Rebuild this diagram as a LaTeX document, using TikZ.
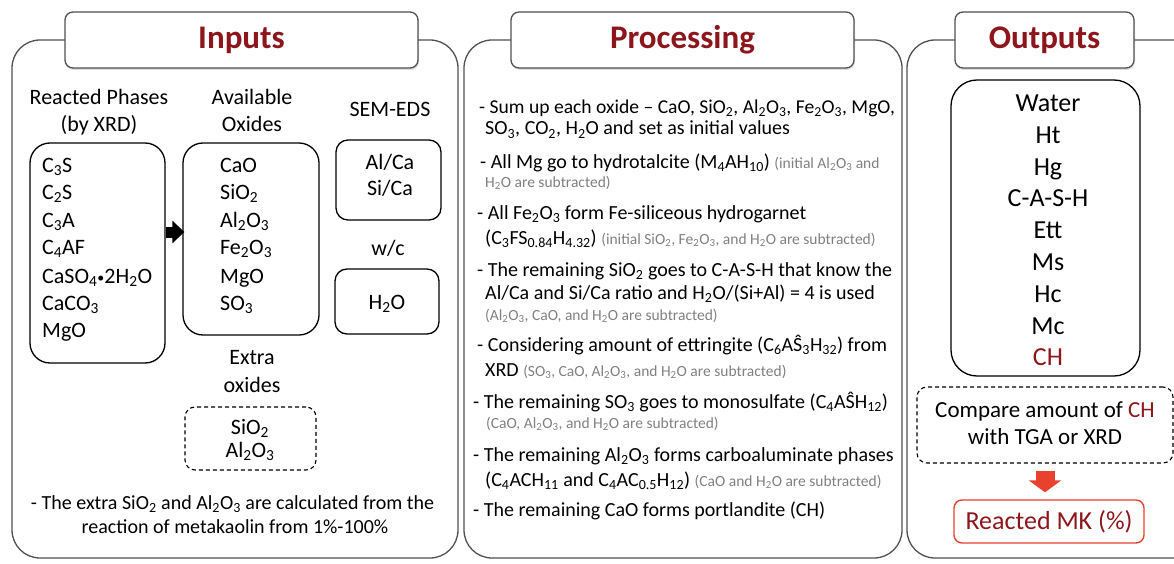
\documentclass[tikz,border=0pt]{standalone}
\usepackage{fontspec}
\setmainfont{Carlito}
\usetikzlibrary{arrows.meta,shadows}
\definecolor{titlered}{RGB}{140,22,28}
\definecolor{panelgray}{RGB}{80,80,85}
\definecolor{notegray}{RGB}{128,128,128}
\definecolor{arrowred}{RGB}{232,65,45}
\newcommand{\sbs}[1]{\textsubscript{#1}}
\newcommand{\fs}[1]{\fontsize{#1}{#1}\selectfont}
\newcommand{\gr}[1]{{\color{notegray}\fs{15.5}#1}}
\newcommand{\smdot}{\raisebox{1pt}{\fs{14}\textbullet}}
\tikzset{
  panel/.style={draw=panelgray, line width=1.3, rounded corners=28},
  titlebox/.style={draw=panelgray, fill=white, line width=1.3, rounded corners=8,
    minimum height=56, inner sep=0, font=\fs{33}\bfseries, text=titlered,
    drop shadow={shadow xshift=1pt, shadow yshift=-2pt, opacity=0.25}},
  ibox/.style={draw=black, line width=1.3, rounded corners=20, inner sep=0},
  sbox/.style={draw=black, line width=1.3, rounded corners=12, inner sep=0},
  dbox/.style={draw=black, line width=1.1, dash pattern=on 4pt off 3pt, rounded corners=10, inner sep=0},
  head/.style={anchor=base, inner sep=0, font=\fs{22}},
  ltxt/.style={anchor=base west, inner sep=0, font=\fs{22}},
  ctxt/.style={anchor=base, inner sep=0, font=\fs{22}},
  ptxt/.style={anchor=base west, inner sep=0, font=\fs{20}},
  gtxt/.style={text=notegray, font=\fs{15.5}},
  otxt/.style={anchor=base, inner sep=0, font=\fs{26}},
}
\begin{document}
\begin{tikzpicture}[x=1pt,y=-1pt]
\useasboundingbox (0,0) rectangle (1174,564);
\clip (0,0) rectangle (1174,564);
% panels
\draw[panel] (12,40) rectangle (458,558);
\draw[panel] (464,40) rectangle (902,558);
\draw[panel] (907,40) rectangle (1210,558);
% titles
\node[titlebox, minimum width=353] (tin) at (241.5,40) {Inputs};
\node[titlebox, minimum width=343] (tpr) at (682.5,40) {Processing};
\node[titlebox, minimum width=179] (tout) at (1044.5,40) {Outputs};

% ---------- Inputs ----------
\node[head] (h1a) at (99,105) {Reacted Phases};
\node[head] (h1b) at (99,132) {(by XRD)};
\node[head] (h2a) at (252,105) {Available};
\node[head] (h2b) at (252,132) {Oxides};
\node[head] (h3) at (390,117) {SEM-EDS};

\node[ibox, minimum width=135, minimum height=220] (phases) at (97.5,253) {};
\node[ibox, minimum width=136, minimum height=192] (oxides) at (251,239) {};
\node[sbox, minimum width=105, minimum height=80] (sem) at (388.5,180) {};
\node[sbox, minimum width=104, minimum height=65] (water) at (387,301.5) {};
\node[dbox, minimum width=131, minimum height=63] (extra) at (250.5,438.5) {};

\node[ltxt] (ph1) at (42,172) {C\sbs{3}S};
\node[ltxt] (ph2) at (42,199) {C\sbs{2}S};
\node[ltxt] (ph3) at (42,227) {C\sbs{3}A};
\node[ltxt] (ph4) at (42,254.5) {C\sbs{4}AF};
\node[ltxt] (ph5) at (42,283) {CaSO\sbs{4}\smdot 2H\sbs{2}O};
\node[ltxt] (ph6) at (42,310) {CaCO\sbs{3}};
\node[ltxt] (ph7) at (42,337.5) {MgO};

\node[ltxt] (ox1) at (220,172) {CaO};
\node[ltxt] (ox2) at (220,199) {SiO\sbs{2}};
\node[ltxt] (ox3) at (220,227) {Al\sbs{2}O\sbs{3}};
\node[ltxt] (ox4) at (220,254.5) {Fe\sbs{2}O\sbs{3}};
\node[ltxt] (ox5) at (220,283) {MgO};
\node[ltxt] (ox6) at (220,310) {SO\sbs{3}};

\node[ctxt] (s1) at (390,169.5) {Al/Ca};
\node[ctxt] (s2) at (390,196) {Si/Ca};
\node[ctxt] (wc) at (388,255) {w/c};
\node[ctxt] (h2o) at (387,309) {H\sbs{2}O};

\node[ctxt] (ex1) at (252,364) {Extra};
\node[ctxt] (ex2) at (252,392) {oxides};
\node[ctxt] (ex3) at (250,434) {SiO\sbs{2}};
\node[ctxt] (ex4) at (250,457) {Al\sbs{2}O\sbs{3}};

\node[anchor=base, inner sep=0, font=\fs{20}] (n1) at (232.5,509.5) {- The extra SiO\sbs{2} and Al\sbs{2}O\sbs{3} are calculated from the};
\node[anchor=base, inner sep=0, font=\fs{20}] (n2) at (235,533.5) {reaction of metakaolin from 1\%-100\%};

\coordinate (ay) at (0,232);
\draw[line width=11, -{Triangle[width=22,length=12]}] (phases.east |- ay) -- ([xshift=2]oxides.west |- ay);

% ---------- Processing ----------
\node[ptxt, font=\fs{19.6}] (p1a) at (479,113.5) {- Sum up each oxide – CaO, SiO\sbs{2}, Al\sbs{2}O\sbs{3}, Fe\sbs{2}O\sbs{3}, MgO,};
\node[ptxt] (p1b) at (485,135) {SO\sbs{3}, CO\sbs{2}, H\sbs{2}O and set as initial values};
\node[ptxt] (p2a) at (480,168.5) {- All Mg go to hydrotalcite (M\sbs{4}AH\sbs{10}) \gr{(initial Al\sbs{2}O\sbs{3} and}};
\node[ptxt,gtxt] (p2b) at (485,187) {H\sbs{2}O are subtracted)};
\node[ptxt] (p3a) at (477,219.5) {- All Fe\sbs{2}O\sbs{3} form Fe-siliceous hydrogarnet};
\node[ptxt] (p3b) at (485,244.5) {(C\sbs{3}FS\sbs{0.84}H\sbs{4.32}) \gr{(initial SiO\sbs{2}, Fe\sbs{2}O\sbs{3}, and H\sbs{2}O are subtracted)}};
\node[ptxt] (p4a) at (477,276.5) {- The remaining SiO\sbs{2} goes to C-A-S-H that know the};
\node[ptxt] (p4b) at (485,299.5) {Al/Ca and Si/Ca ratio and H\sbs{2}O/(Si+Al) = 4 is used};
\node[ptxt,gtxt] (p4c) at (485,320) {(Al\sbs{2}O\sbs{3}, CaO, and H\sbs{2}O are subtracted)};
\node[ptxt] (p5a) at (477,351.5) {- Considering amount of ettringite (C\sbs{6}AŜ\sbs{3}H\sbs{32}) from};
\node[ptxt] (p5b) at (485,376.5) {XRD \gr{(SO\sbs{3}, CaO, Al\sbs{2}O\sbs{3}, and H\sbs{2}O are subtracted)}};
\node[ptxt] (p6a) at (473,408.5) {- The remaining SO\sbs{3} goes to monosulfate (C\sbs{4}AŜH\sbs{12})};
\node[ptxt,gtxt] (p6b) at (486,428) {(CaO, Al\sbs{2}O\sbs{3}, and H\sbs{2}O are subtracted)};
\node[ptxt] (p7a) at (473,461.5) {- The remaining Al\sbs{2}O\sbs{3} forms carboaluminate phases};
\node[ptxt] (p7b) at (485,486.5) {(C\sbs{4}ACH\sbs{11} and C\sbs{4}AC\sbs{0.5}H\sbs{12}) \gr{(CaO and H\sbs{2}O are subtracted)}};
\node[ptxt] (p8) at (473,516.5) {- The remaining CaO forms portlandite (CH)};

% ---------- Outputs ----------
\node[ibox, rounded corners=26, minimum width=189, minimum height=296] (obox) at (1045.5,228) {};
\node[otxt] (o1) at (1048,111.5) {Water};
\node[otxt] (o2) at (1048,143.3) {Ht};
\node[otxt] (o3) at (1048,175.1) {Hg};
\node[otxt] (o4) at (1048,206.9) {C-A-S-H};
\node[otxt] (o5) at (1048,238.7) {Ett};
\node[otxt] (o6) at (1048,270.5) {Ms};
\node[otxt] (o7) at (1048,302.3) {Hc};
\node[otxt] (o8) at (1048,334.1) {Mc};
\node[otxt, text=titlered] (o9) at (1048,365.9) {CH};

\node[dbox, minimum width=256, minimum height=76] (cmp) at (1045,425) {};
\node[anchor=base, inner sep=0, font=\fs{23}] (c1) at (1045,417.5) {Compare amount of \textcolor{titlered}{CH}};
\node[anchor=base, inner sep=0, font=\fs{23}] (c2) at (1045,444.5) {with TGA or XRD};

\node[draw=arrowred, line width=1.4, rounded corners=8, minimum width=190, minimum height=43,
  inner sep=0, font=\fs{26}, text=titlered] (mk) at (1049,521.5) {Reacted MK (\%)};
\draw[arrowred, line width=19, -{Triangle[width=32,length=12]}, shorten <=7, shorten >=7]
  (cmp.south) -- (cmp.south |- mk.north);
\end{tikzpicture}
\end{document}
